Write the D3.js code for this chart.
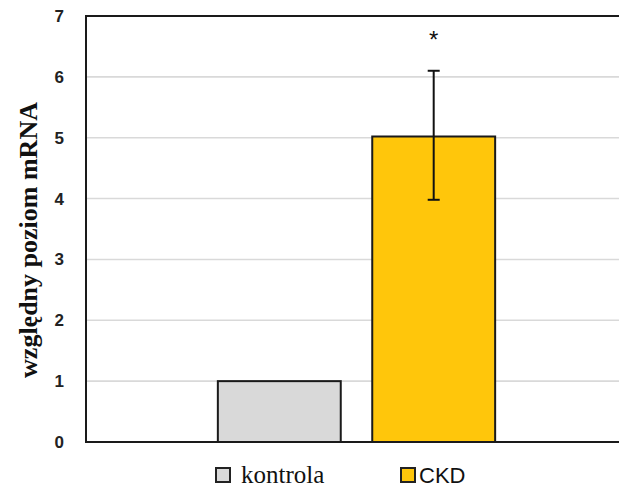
<!DOCTYPE html>
<html>
<head>
<meta charset="utf-8">
<script src="https://cdn.jsdelivr.net/npm/d3@7"></script>
<style>
  html, body { margin: 0; padding: 0; background: #fff; }
  svg { display: block; }
</style>
</head>
<body>
<svg id="chart" width="619" height="490"></svg>
<script>
const categories = ["kontrola", "CKD"];
const values = [1.0, 5.02];
const errLow = [null, 3.98];
const errHigh = [null, 6.1];
const significance = ["", "*"];
const yTicks = [0, 1, 2, 3, 4, 5, 6, 7];
const legendLabels = ["kontrola", "CKD"];
const colors = ["#d9d9d9", "#ffc60b"];

const svg = d3.select("#chart");
const W = 619, H = 490;
const pLeft = 86, pTop = 16, pBottom = 442, pRight = 627;

const y = d3.scaleLinear().domain([0, 7]).range([pBottom, pTop]);
const x = d3.scaleBand().domain(categories).range([pLeft, pRight])
  .paddingInner(0.204).paddingOuter(0.854);

// gridlines
svg.append("g").selectAll("line").data(yTicks.filter(t => t > 0 && t < 7)).join("line")
  .attr("x1", pLeft).attr("x2", W)
  .attr("y1", d => y(d)).attr("y2", d => y(d))
  .attr("stroke", "#d9d9d9").attr("stroke-width", 1.6);

// bars
svg.append("g").selectAll("rect").data(categories).join("rect")
  .attr("x", d => x(d)).attr("width", x.bandwidth())
  .attr("y", (d, i) => y(values[i]))
  .attr("height", (d, i) => y(0) - y(values[i]))
  .attr("fill", (d, i) => colors[i])
  .attr("stroke", "#1a1a1a").attr("stroke-width", 2);

// error bars
const eb = svg.append("g");
categories.forEach((c, i) => {
  if (errLow[i] == null) return;
  const cx = x(c) + x.bandwidth() / 2;
  eb.append("line").attr("x1", cx).attr("x2", cx)
    .attr("y1", y(errLow[i])).attr("y2", y(errHigh[i]))
    .attr("stroke", "#111").attr("stroke-width", 2);
  [errLow[i], errHigh[i]].forEach(v => {
    eb.append("line").attr("x1", cx - 6).attr("x2", cx + 6)
      .attr("y1", y(v)).attr("y2", y(v))
      .attr("stroke", "#111").attr("stroke-width", 2);
  });
  if (significance[i]) {
    eb.append("text").attr("x", cx).attr("y", y(errHigh[i]) - 23)
      .attr("text-anchor", "middle")
      .attr("font-family", "Liberation Sans, Arial, sans-serif")
      .attr("font-size", 24).attr("fill", "#111")
      .text(significance[i]);
  }
});

// frame: left, top, bottom
svg.append("line").attr("x1", pLeft).attr("x2", pLeft).attr("y1", pTop).attr("y2", pBottom)
  .attr("stroke", "#1a1a1a").attr("stroke-width", 2);
svg.append("line").attr("x1", pLeft - 1).attr("x2", W).attr("y1", pTop).attr("y2", pTop)
  .attr("stroke", "#1a1a1a").attr("stroke-width", 2);
svg.append("line").attr("x1", pLeft - 1).attr("x2", W).attr("y1", pBottom).attr("y2", pBottom)
  .attr("stroke", "#1a1a1a").attr("stroke-width", 2);

// y axis tick labels
const yAxis = d3.axisLeft(y).tickValues(yTicks).tickSize(0).tickPadding(0).tickFormat(d3.format("d"));
const ga = svg.append("g").attr("transform", `translate(${pLeft - 22},0)`).call(yAxis);
ga.select(".domain").remove();
ga.selectAll("text")
  .attr("font-family", "Liberation Sans, Arial, sans-serif")
  .attr("font-weight", "bold").attr("font-size", 17).attr("fill", "#222");

// y axis title
svg.append("text")
  .attr("transform", `translate(37,240) rotate(-90)`)
  .attr("text-anchor", "middle")
  .attr("font-family", "Liberation Serif, 'Times New Roman', serif")
  .attr("font-weight", "bold").attr("font-size", 26).attr("fill", "#111")
  .text("względny poziom mRNA");

// legend
const legendX = [216, 401];
const lg = svg.append("g");
legendLabels.forEach((l, i) => {
  lg.append("rect").attr("x", legendX[i]).attr("y", 468).attr("width", 14).attr("height", 14)
    .attr("fill", colors[i]).attr("stroke", "#222").attr("stroke-width", 2);
  lg.append("text").attr("x", legendX[i] + (i === 0 ? 25 : 18)).attr("y", 483)
    .attr("font-family", i === 0 ? "Liberation Serif, 'Times New Roman', serif" : "Liberation Sans, Arial, sans-serif")
    .attr("font-size", i === 0 ? 25 : 22).attr("fill", "#111")
    .text(l);
});
</script>
</body>
</html>
